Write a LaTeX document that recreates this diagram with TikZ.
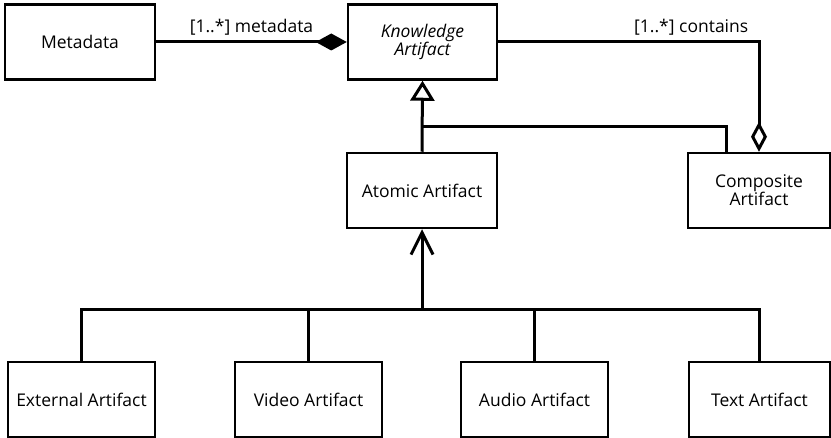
\documentclass[tikz,border=0pt]{standalone}
\usepackage{fontspec}
\setmainfont{Open Sans}
\usetikzlibrary{arrows.meta,positioning}
\tikzset{
  box/.style={draw,line width=2.5pt,fill=white,align=center,minimum height=75pt,
    font=\fontsize{17.5}{18}\selectfont},
  conn/.style={line width=3pt},
  lbl/.style={font=\fontsize{17.5}{18}\selectfont,above=2pt}
}

\begin{document}
\begin{tikzpicture}[x=1pt,y=-1pt]
  \useasboundingbox (0,0) rectangle (831,438);
  \node[box,minimum width=150pt] (meta) at (80,42) {Metadata};
  \node[box,minimum width=149pt] (know) at (422.5,42) {\itshape Knowledge\\\itshape Artifact};
  \node[box,minimum width=150pt] (atomic) at (422,190.5) {Atomic Artifact};
  \node[box,minimum width=142pt] (comp) at (759,190.5) {Composite\\Artifact};
  \foreach \n/\x/\w/\t in {ext/81.5/147/External Artifact, video/308.5/147/Video Artifact,
      audio/534.5/147/Audio Artifact, text/759.5/141/Text Artifact}
    \node[box,minimum width=\w pt] (\n) at (\x,399.5) {\t};

  \draw[conn,-{Diamond[length=31pt,width=17pt]}] (meta) -- node[lbl] {[1..*] metadata} (know);
  \draw[conn,-{Diamond[open,length=30pt,width=16pt]}] (know.east) -| node[lbl,pos=0.37] {[1..*] contains} (comp.north);

  \coordinate (join) at (422,127);
  \draw[conn,-{Triangle[open,length=20pt,width=24pt]}] (atomic.north) -- (know.south);
  \draw[conn] ([xshift=-33pt]comp.north) |- (join);

  \coordinate (bus) at (422,310);
  \draw[conn,-{Straight Barb[length=22pt,width=22pt]}] (bus) -- (atomic.south);
  \draw[conn] (ext.north) |- (bus) -| (text.north);
  \draw[conn] (video.north) |- (bus);
  \draw[conn] (audio.north) |- (bus);
\end{tikzpicture}
\end{document}
